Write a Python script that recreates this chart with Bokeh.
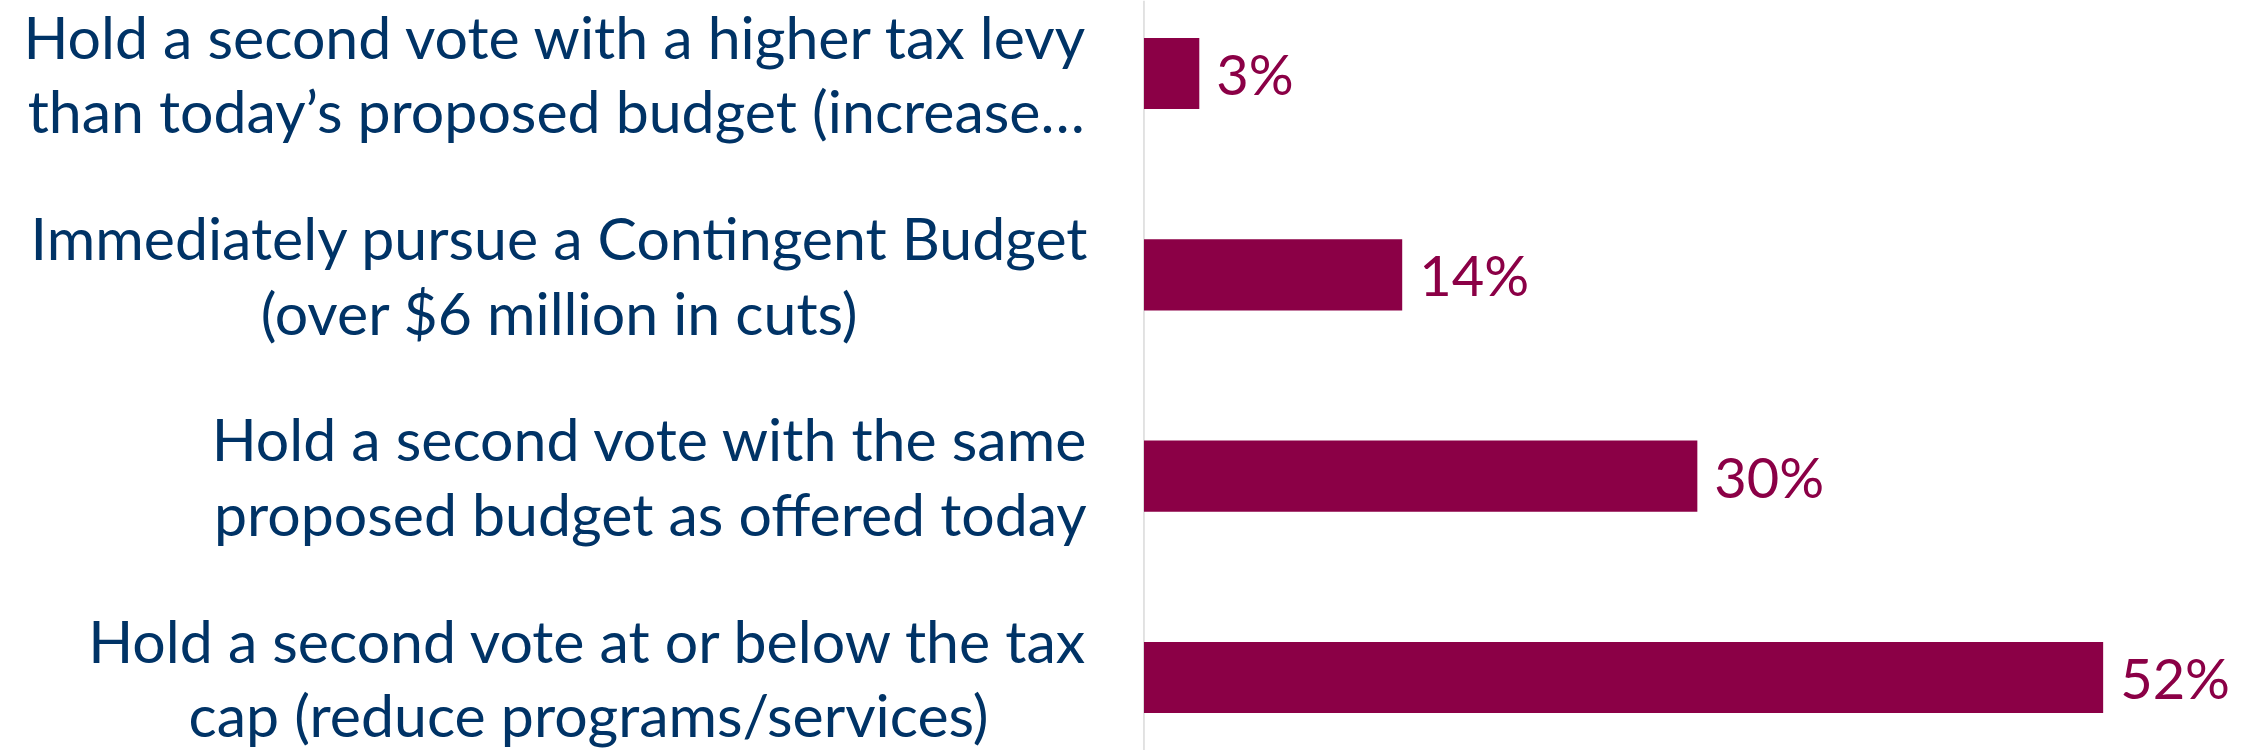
from bokeh.plotting import figure
from bokeh.models import ColumnDataSource, FactorRange, Range1d, Span
from bokeh.core.properties import value
from bokeh.embed import file_html
from bokeh.resources import INLINE

categories = [
    "Hold a second vote with a higher tax levy\nthan today\u2019s proposed budget (increase\u2026",
    "Immediately pursue a Contingent Budget\n(over $6 million in cuts)",
    "Hold a second vote with the same\nproposed budget as offered today",
    "Hold a second vote at or below the tax\ncap (reduce programs/services)",
]
values = [3, 14, 30, 52]
value_labels = ["3%", "14%", "30%", "52%"]

BAR = "#8B0046"
NAVY = "#003366"
FONT = "Lato"

src = ColumnDataSource(dict(cat=categories, val=values, lab=value_labels, zero=[0] * len(values)))

p = figure(
    width=2241, height=750,
    y_range=FactorRange(factors=list(reversed(categories)), range_padding=-0.137,
                        range_padding_units="absolute"),
    x_range=Range1d(-61.99, 59.50),
    output_backend="svg", toolbar_location=None,
    min_border=0, min_border_left=0, min_border_right=0, min_border_top=0, min_border_bottom=0,
)
p.outline_line_color = None
p.xaxis.visible = False
p.yaxis.visible = False
p.xgrid.visible = False
p.ygrid.visible = False
p.background_fill_color = "white"

p.add_layout(Span(location=0, dimension="height", line_color="#D9D9D9", line_width=1.5, level="underlay"))

p.hbar(y="cat", right="val", left=0, height=0.353, source=src, fill_color=BAR, line_color=None)

p.text(x="val", y="cat", text="lab", source=src, x_offset=17,
       text_align="left", text_baseline="middle", text_color=BAR,
       text_font=value(FONT), text_font_size="56px")

p.text(x="zero", y="cat", text="cat", source=src, x_offset=-55,
       anchor="center_right", text_align="center", text_baseline="middle",
       text_color=NAVY, text_font=value(FONT), text_font_size="59px",
       text_line_height=1.05)

open("out.html", "w").write(file_html(p, INLINE))
